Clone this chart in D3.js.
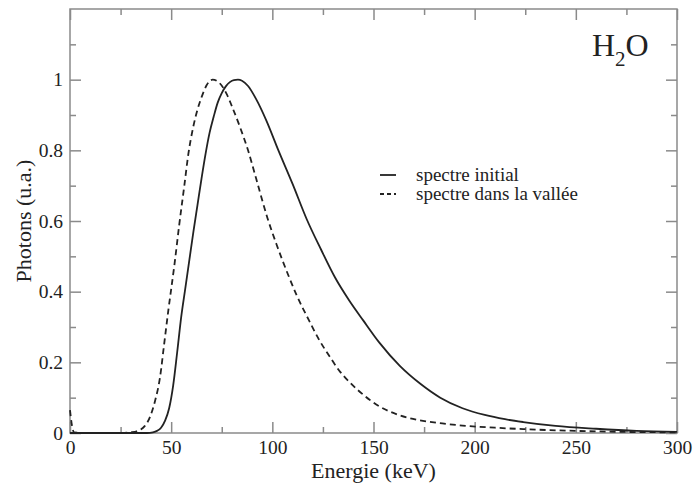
<!DOCTYPE html>
<html><head><meta charset="utf-8">
<script src="https://cdn.jsdelivr.net/npm/d3@7"></script>
<style>
body{margin:0;background:#fff;}
</style></head>
<body><svg id="c" width="693" height="483"></svg>
<script>
// Data
const energyInitial = [0,20,38,41,43,45,47,49,51,53,55,57,59,61,63,65,67,69,71,73,75,77,79,81,83,85,88,92,97,103,110,117,124,131,138,145,153,163,173,183,194,205,215,224,240,260,280,300];
const photonsInitial = [0,0,0,0.002,0.006,0.015,0.035,0.07,0.135,0.23,0.33,0.41,0.49,0.57,0.645,0.72,0.79,0.85,0.895,0.935,0.962,0.981,0.993,0.999,1.0,0.997,0.982,0.945,0.885,0.8,0.705,0.605,0.52,0.44,0.375,0.318,0.255,0.19,0.14,0.1,0.07,0.051,0.039,0.031,0.02,0.012,0.006,0.003];
const energyValley = [0,1,2,10,25,30,33,35,37,39.5,42,44.5,46.5,48.6,51.7,54,56.5,58.5,60.9,63,65,67.5,70.5,73,77.4,80,84,88,92,97.5,102,108,112,118,123,128.5,133,138,145,153,163,173,184,194,210,224,250,275,300];
const photonsValley = [0.065,0.02,0.002,0,0,0.002,0.005,0.01,0.02,0.045,0.09,0.158,0.25,0.347,0.48,0.59,0.70,0.79,0.866,0.915,0.95,0.984,1.0,0.995,0.96,0.925,0.866,0.8,0.72,0.61,0.535,0.445,0.39,0.32,0.265,0.215,0.177,0.145,0.108,0.075,0.05,0.036,0.027,0.021,0.015,0.011,0.006,0.003,0.002];
const xMajorTicks = [0,50,100,150,200,250,300];
const xMinorTicks = [25,75,125,175,225,275];
const yMajorTicks = [0,0.2,0.4,0.6,0.8,1];
const yMinorTicks = [0.1,0.3,0.5,0.7,0.9,1.1];
const seriesLabels = ["spectre initial","spectre dans la vallée"];

const svg = d3.select("#c");
const L=70, R=677, T=9, B=433;
const x = d3.scaleLinear().domain([0,300]).range([L,R]);
const y = d3.scaleLinear().domain([0,1.2]).range([B,T]);
const axisColor="#8a8a8a";
const serif="'Liberation Serif', serif";

function styleAxis(g){
  g.attr("font-family",null).attr("font-size",null);
  g.select(".domain").remove();
  g.selectAll(".tick line").attr("stroke",axisColor).attr("stroke-width",1.5);
  g.selectAll(".tick text").style("font-family",serif).style("font-size","19.5px").attr("fill","#222");
}
// bottom
svg.append("g").attr("transform",`translate(0,${B})`)
  .call(d3.axisBottom(x).tickValues(xMajorTicks).tickSizeInner(-11).tickSizeOuter(0).tickPadding(7).tickFormat(d3.format("d")))
  .call(styleAxis);
svg.append("g").attr("transform",`translate(0,${B})`)
  .call(d3.axisBottom(x).tickValues(xMinorTicks).tickSizeInner(-6).tickSizeOuter(0).tickFormat(""))
  .call(styleAxis);
// top
svg.append("g").attr("transform",`translate(0,${T})`)
  .call(d3.axisTop(x).tickValues(xMajorTicks).tickSizeInner(-11).tickSizeOuter(0).tickFormat(""))
  .call(styleAxis);
svg.append("g").attr("transform",`translate(0,${T})`)
  .call(d3.axisTop(x).tickValues(xMinorTicks).tickSizeInner(-6).tickSizeOuter(0).tickFormat(""))
  .call(styleAxis);
// left
svg.append("g").attr("transform",`translate(${L},0)`)
  .call(d3.axisLeft(y).tickValues(yMajorTicks).tickSizeInner(-11).tickSizeOuter(0).tickPadding(7).tickFormat(d=>String(+d.toFixed(1))))
  .call(styleAxis);
svg.append("g").attr("transform",`translate(${L},0)`)
  .call(d3.axisLeft(y).tickValues(yMinorTicks).tickSizeInner(-6).tickSizeOuter(0).tickFormat(""))
  .call(styleAxis);
// right
svg.append("g").attr("transform",`translate(${R},0)`)
  .call(d3.axisRight(y).tickValues(yMajorTicks).tickSizeInner(-11).tickSizeOuter(0).tickFormat(""))
  .call(styleAxis);
svg.append("g").attr("transform",`translate(${R},0)`)
  .call(d3.axisRight(y).tickValues(yMinorTicks).tickSizeInner(-6).tickSizeOuter(0).tickFormat(""))
  .call(styleAxis);

// frame
svg.append("rect").attr("x",L).attr("y",T).attr("width",R-L).attr("height",B-T)
  .attr("fill","none").attr("stroke",axisColor).attr("stroke-width",1.5);

// curves
const line = d3.line().x(d=>x(d[0])).y(d=>y(d[1])).curve(d3.curveMonotoneX);
const initialPts = energyInitial.map((e,i)=>[e,photonsInitial[i]]);
const valleyPts = energyValley.map((e,i)=>[e,photonsValley[i]]);
svg.append("path").datum(valleyPts).attr("d",line).attr("fill","none")
  .attr("stroke","#222").attr("stroke-width",1.8).attr("stroke-dasharray","6,4");
svg.append("path").datum(initialPts).attr("d",line).attr("fill","none")
  .attr("stroke","#222").attr("stroke-width",1.8);

function txt(sel){ return sel.style("font-family",serif).attr("fill","#222"); }

// legend
const leg = svg.append("g");
[0,1].forEach(i=>{
  const yy = 175 + i*19;
  leg.append("line").attr("x1",380).attr("x2",396).attr("y1",yy).attr("y2",yy)
    .attr("stroke","#222").attr("stroke-width",1.8).attr("stroke-dasharray",i?"4,3":null);
  txt(leg.append("text")).attr("x",416).attr("y",yy+6).style("font-size","19px").text(seriesLabels[i]);
});

// H2O label
const h = txt(svg.append("text")).attr("x",592).attr("y",56).style("font-size","32px");
h.append("tspan").text("H");
h.append("tspan").attr("dy",10).style("font-size","21px").text("2");
h.append("tspan").attr("dy",-10).text("O");

// axis titles
txt(svg.append("text")).attr("x",(L+R)/2).attr("y",478).attr("text-anchor","middle").style("font-size","22px").text("Energie (keV)");
txt(svg.append("text")).attr("transform",`translate(31,${(T+B)/2}) rotate(-90)`).attr("text-anchor","middle").style("font-size","22px").text("Photons (u.a.)");
</script></body></html>
